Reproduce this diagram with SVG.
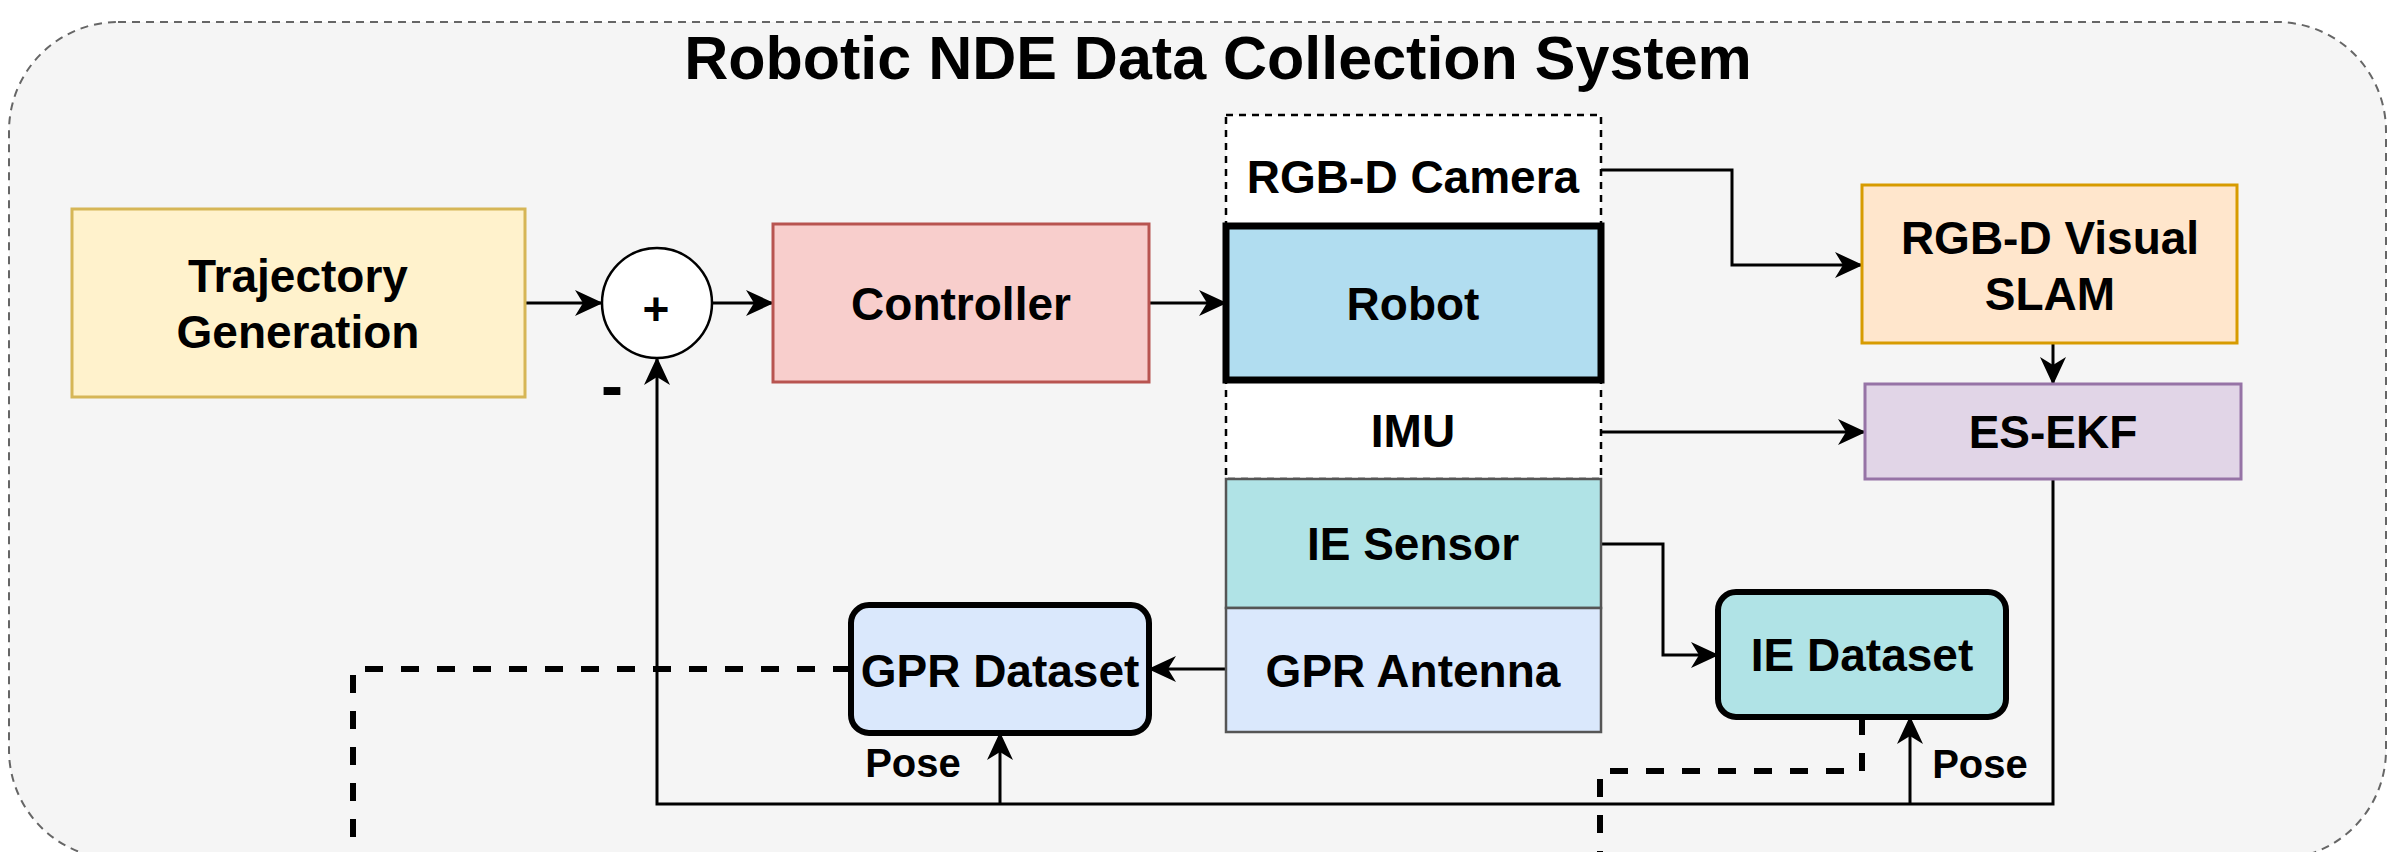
<svg xmlns="http://www.w3.org/2000/svg" width="2396" height="852" viewBox="0 0 2396 852">
<defs>
<style>
.t{font-family:"Liberation Sans",Arial,Helvetica,sans-serif;font-weight:bold;fill:#000;text-anchor:middle}
.lbl{font-size:46px}
.pose{font-size:40px}
.conn{fill:none;stroke:#000;stroke-width:3}
.thick-dash{fill:none;stroke:#000;stroke-width:6;stroke-dasharray:18 18}
.thin-dash{fill:#fff;stroke:#000;stroke-width:2.5;stroke-dasharray:7 6}
</style>
<marker id="arr" markerUnits="userSpaceOnUse" markerWidth="28" markerHeight="28" viewBox="0 0 28 28" refX="27" refY="14" orient="auto">
<path d="M0,1 L28,14 L0,27 L8,14 Z" fill="#000"/>
</marker>
</defs>
<rect x="0" y="0" width="2396" height="852" fill="#fff"/>
<g id="container">
<rect x="9" y="22" width="2377" height="837" rx="109" ry="109" fill="#f5f5f5" stroke="#666" stroke-width="2" stroke-dasharray="8 6"/>
<text class="t" x="1218" y="79" font-size="61">Robotic NDE Data Collection System</text>
</g>
<g id="connectors">
<path class="conn" d="M525,303 L602,303" marker-end="url(#arr)"/>
<path class="conn" d="M712,303 L773,303" marker-end="url(#arr)"/>
<path class="conn" d="M1149,303 L1226,303" marker-end="url(#arr)"/>
<path class="conn" d="M1601,170 L1732,170 L1732,265 L1862,265" marker-end="url(#arr)"/>
<path class="conn" d="M1601,432 L1865,432" marker-end="url(#arr)"/>
<path class="conn" d="M2053,343 L2053,384" marker-end="url(#arr)"/>
<path class="conn" d="M1601,544 L1663,544 L1663,655 L1718,655" marker-end="url(#arr)"/>
<path class="conn" d="M1226,669 L1149,669" marker-end="url(#arr)"/>
<path class="conn" d="M2053,479 L2053,804 L657,804 L657,358" marker-end="url(#arr)"/>
<path class="conn" d="M1000,804 L1000,733" marker-end="url(#arr)"/>
<path class="conn" d="M1910,804 L1910,717" marker-end="url(#arr)"/>
<path class="thick-dash" d="M851,669 L353,669 L353,870"/>
<path class="thick-dash" d="M1862,717 L1862,771 L1600,771 L1600,870"/>
<text class="t pose" x="913" y="777">Pose</text>
<text class="t pose" x="1980" y="778">Pose</text>
</g>
<g id="traj">
<rect x="72" y="209" width="453" height="188" fill="#fff2cc" stroke="#d6b656" stroke-width="3"/>
<text class="t lbl" x="298" y="292">Trajectory</text>
<text class="t lbl" x="298" y="348">Generation</text>
</g>
<g id="sum">
<circle cx="657" cy="303" r="55" fill="#fff" stroke="#000" stroke-width="2.5"/>
<text class="t lbl" x="656" y="325">+</text>
<text class="t" x="612" y="408" font-size="66">-</text>
</g>
<g id="controller">
<rect x="773" y="224" width="376" height="158" fill="#f8cecc" stroke="#b85450" stroke-width="3"/>
<text class="t lbl" x="961" y="320">Controller</text>
</g>
<g id="camera">
<rect class="thin-dash" x="1226" y="115" width="375" height="364"/>
<text class="t lbl" x="1413" y="193">RGB-D Camera</text>
</g>
<g id="robot">
<rect x="1226" y="226" width="375" height="154" fill="#b1ddf0" stroke="#000" stroke-width="7"/>
<text class="t lbl" x="1413" y="320">Robot</text>
</g>
<g id="imu">
<text class="t lbl" x="1413" y="447">IMU</text>
</g>
<g id="ie-sensor">
<rect x="1226" y="479" width="375" height="129" fill="#b0e3e6" stroke="#555" stroke-width="2.5"/>
<text class="t lbl" x="1413" y="560">IE Sensor</text>
</g>
<g id="gpr-antenna">
<rect x="1226" y="608" width="375" height="124" fill="#dae8fc" stroke="#555" stroke-width="2.5"/>
<text class="t lbl" x="1413" y="687">GPR Antenna</text>
</g>
<g id="slam">
<rect x="1862" y="185" width="375" height="158" fill="#ffe6cc" stroke="#d79b00" stroke-width="3"/>
<text class="t lbl" x="2050" y="254">RGB-D Visual</text>
<text class="t lbl" x="2050" y="310">SLAM</text>
</g>
<g id="es-ekf">
<rect x="1865" y="384" width="376" height="95" fill="#e1d5e7" stroke="#9673a6" stroke-width="3"/>
<text class="t lbl" x="2053" y="448">ES-EKF</text>
</g>
<g id="gpr-dataset">
<rect x="851" y="605" width="298" height="128" rx="18" ry="18" fill="#dae8fc" stroke="#000" stroke-width="6"/>
<text class="t lbl" x="1000" y="687">GPR Dataset</text>
</g>
<g id="ie-dataset">
<rect x="1718" y="592" width="288" height="125" rx="18" ry="18" fill="#b0e3e6" stroke="#000" stroke-width="6"/>
<text class="t lbl" x="1862" y="671">IE Dataset</text>
</g>
</svg>
